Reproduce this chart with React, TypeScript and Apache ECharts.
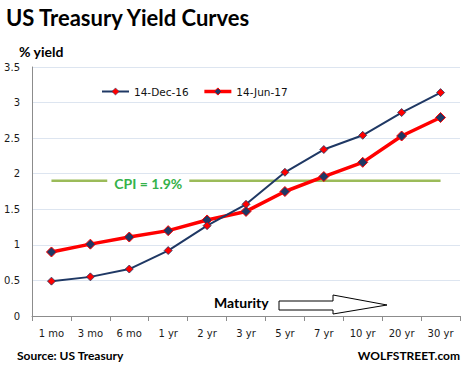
import React, { useEffect, useRef } from "react";
import * as echarts from "echarts";

const categories = ["1 mo", "3 mo", "6 mo", "1 yr", "2 yr", "3 yr", "5 yr", "7 yr", "10 yr", "20 yr", "30 yr"];
const dec16 = [0.49, 0.55, 0.66, 0.92, 1.27, 1.57, 2.02, 2.34, 2.54, 2.86, 3.14];
const jun17 = [0.9, 1.01, 1.11, 1.2, 1.35, 1.47, 1.75, 1.96, 2.16, 2.53, 2.79];
const cpiValues = [1.9, 1.9, 1.9, 1.9, 1.9, 1.9, 1.9, 1.9, 1.9, 1.9, 1.9];
const cpiLabelIndex = 2;
const yTicks = { min: 0, max: 3.5, interval: 0.5 };

export default function App() {
  const ref = useRef<HTMLDivElement>(null);
  useEffect(() => {
    document.body.style.margin = "0";
    const chart = echarts.init(ref.current!, null, { renderer: "svg" });
    const axisFont = "DejaVu Sans";
    const boldFont = "Lato";
    chart.setOption({
      animation: false,
      backgroundColor: "#ffffff",
      grid: { left: 32, right: 4, top: 67, bottom: 57 },
      legend: {
        data: [
          {
            name: "14-Dec-16",
            itemStyle: { color: "#ff0000", borderColor: "#1f3864", borderWidth: 0.5 },
            lineStyle: { color: "#1f3864", width: 2 },
          },
          {
            name: "14-Jun-17",
            itemStyle: { color: "#1f3864", borderColor: "#ff0000", borderWidth: 1 },
            lineStyle: { color: "#ff0000", width: 3.5 },
          },
        ],
        left: 96,
        top: 81,
        itemWidth: 27,
        itemHeight: 9,
        itemGap: 14,
        textStyle: { fontFamily: axisFont, fontSize: 10.5, color: "#111" },
      },
      xAxis: {
        type: "category",
        data: categories,
        boundaryGap: true,
        axisLine: { lineStyle: { color: "#8c8c8c", width: 1 } },
        axisTick: { show: true, length: 5, lineStyle: { color: "#8c8c8c" } },
        axisLabel: { fontFamily: axisFont, fontSize: 10, color: "#1a1a1a", margin: 12 },
        splitLine: { show: false },
      },
      yAxis: {
        type: "value",
        min: yTicks.min,
        max: yTicks.max,
        interval: yTicks.interval,
        axisLine: { show: true, lineStyle: { color: "#8c8c8c", width: 1 } },
        axisTick: { show: false },
        axisLabel: { fontFamily: axisFont, fontSize: 10, color: "#1a1a1a", margin: 12 },
        splitLine: { lineStyle: { color: "#dde5f0", width: 1 } },
      },
      series: [
        {
          name: "CPI",
          type: "line",
          data: cpiValues.map((v, i) =>
            i === cpiLabelIndex
              ? {
                  value: v,
                  label: {
                    show: true,
                    position: "inside",
                    offset: [19, 3],
                    formatter: "CPI = 1.9%",
                    fontFamily: boldFont,
                    fontWeight: "bold",
                    fontSize: 14,
                    color: "#35b24a",
                    backgroundColor: "#ffffff",
                    padding: [1, 7],
                  },
                }
              : v
          ),
          symbol: "circle",
          symbolSize: 1,
          itemStyle: { color: "rgba(0,0,0,0)" },
          lineStyle: { color: "#9bbb59", width: 2.5 },
          z: 1,
          silent: true,
        },
        {
          name: "14-Dec-16",
          type: "line",
          data: dec16,
          symbol: "diamond",
          symbolSize: 8,
          itemStyle: { color: "#ff0000", borderColor: "#1f3864", borderWidth: 0.8 },
          lineStyle: { color: "#1f3864", width: 2 },
          z: 3,
        },
        {
          name: "14-Jun-17",
          type: "line",
          data: jun17,
          symbol: "diamond",
          symbolSize: 10,
          itemStyle: { color: "#1f3864", borderColor: "#ff0000", borderWidth: 1 },
          lineStyle: { color: "#ff0000", width: 3.5 },
          z: 2,
        },
      ],
      graphic: [
        {
          type: "text",
          left: 6,
          top: 6,
          style: { text: "US Treasury Yield Curves", font: `bold 22px ${boldFont}`, fill: "#000" },
        },
        {
          type: "text",
          left: 19,
          top: 44,
          style: { text: "% yield", font: `bold 14px ${boldFont}`, fill: "#000" },
        },
        {
          type: "text",
          left: 214,
          top: 295,
          style: { text: "Maturity", font: `bold 14px ${boldFont}`, fill: "#000" },
        },
        {
          type: "polygon",
          shape: {
            points: [
              [279, 301],
              [333, 301],
              [333, 295],
              [387, 305],
              [333, 314],
              [333, 310],
              [279, 310],
            ],
          },
          style: { fill: "#fff", stroke: "#000", lineWidth: 1 },
        },
        {
          type: "text",
          left: 17,
          top: 349,
          style: { text: "Source: US Treasury", font: `bold 12px ${boldFont}`, fill: "#000" },
        },
        {
          type: "text",
          right: 4,
          top: 349,
          style: { text: "WOLFSTREET.com", font: `bold 12px ${boldFont}`, fill: "#000" },
        },
      ],
    });
    return () => chart.dispose();
  }, []);
  return <div ref={ref} style={{ width: 464, height: 373 }} />;
}
